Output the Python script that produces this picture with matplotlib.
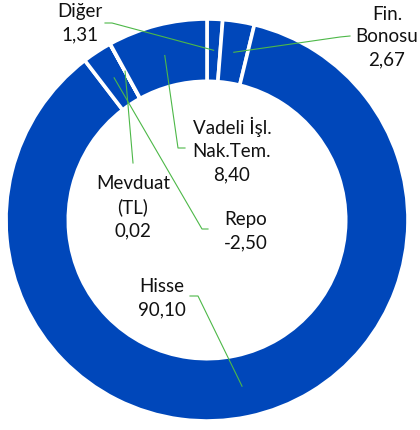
import numpy as np
import matplotlib.pyplot as plt

# Portföy dağılımı (%), saat 12'den saat yönünde
labels = ['Diğer', 'Fin.\nBonosu', 'Hisse', 'Repo', 'Mevduat\n(TL)', 'Vadeli İşl.\nNak.Tem.']
values = [1.31, 2.67, 90.10, -2.50, 0.02, 8.40]

# label layout in pixels (x, y from top): text centre, elbow points
text_pos = [(80, 23), (387, 37), (162, 298), (246, 231), (133, 207), (232, 150)]
elbows = [[(112, 23), (105, 23)],
          [(340, 37), (350, 36)],
          [(198, 296), (190, 296)],
          [(202, 229), (208, 229)],
          [(133, 163)],
          [(178, 148), (185, 148)]]

W, H = 420, 430
blue = '#0047BA'
green = '#4DB848'

plt.rcParams['font.family'] = ['Lato', 'DejaVu Sans']

fig = plt.figure(figsize=(W / 100, H / 100), dpi=100)
ax = fig.add_axes([0, 0, 1, 1])

cx, cy, R = 207, H - 220, 201
wedges, _ = ax.pie(np.abs(values), startangle=90, counterclock=False,
                   center=(cx, cy), radius=R, colors=[blue] * len(values),
                   wedgeprops=dict(width=0.31 * R, edgecolor='white', linewidth=2.6))
ax.set_xlim(0, W)
ax.set_ylim(0, H)
ax.set_aspect('equal')
ax.axis('off')

for w, lab, v, tp, elb in zip(wedges, labels, values, text_pos, elbows):
    # leader line from the middle of the ring to the label
    ang = np.deg2rad((w.theta1 + w.theta2) / 2)
    r = 0.845 * R
    px, py = cx + r * np.cos(ang), cy + r * np.sin(ang)
    xs = [px] + [e[0] for e in elb]
    ys = [py] + [H - e[1] for e in elb]
    ax.plot(xs, ys, color=green, lw=0.8)
    txt = lab + '\n' + f"{v:.2f}".replace('.', ',')
    ax.text(tp[0], H - tp[1], txt, ha='center', va='center', fontsize=13.5,
            color='#111111', linespacing=1.42)

fig.savefig('out.png', dpi=100)
